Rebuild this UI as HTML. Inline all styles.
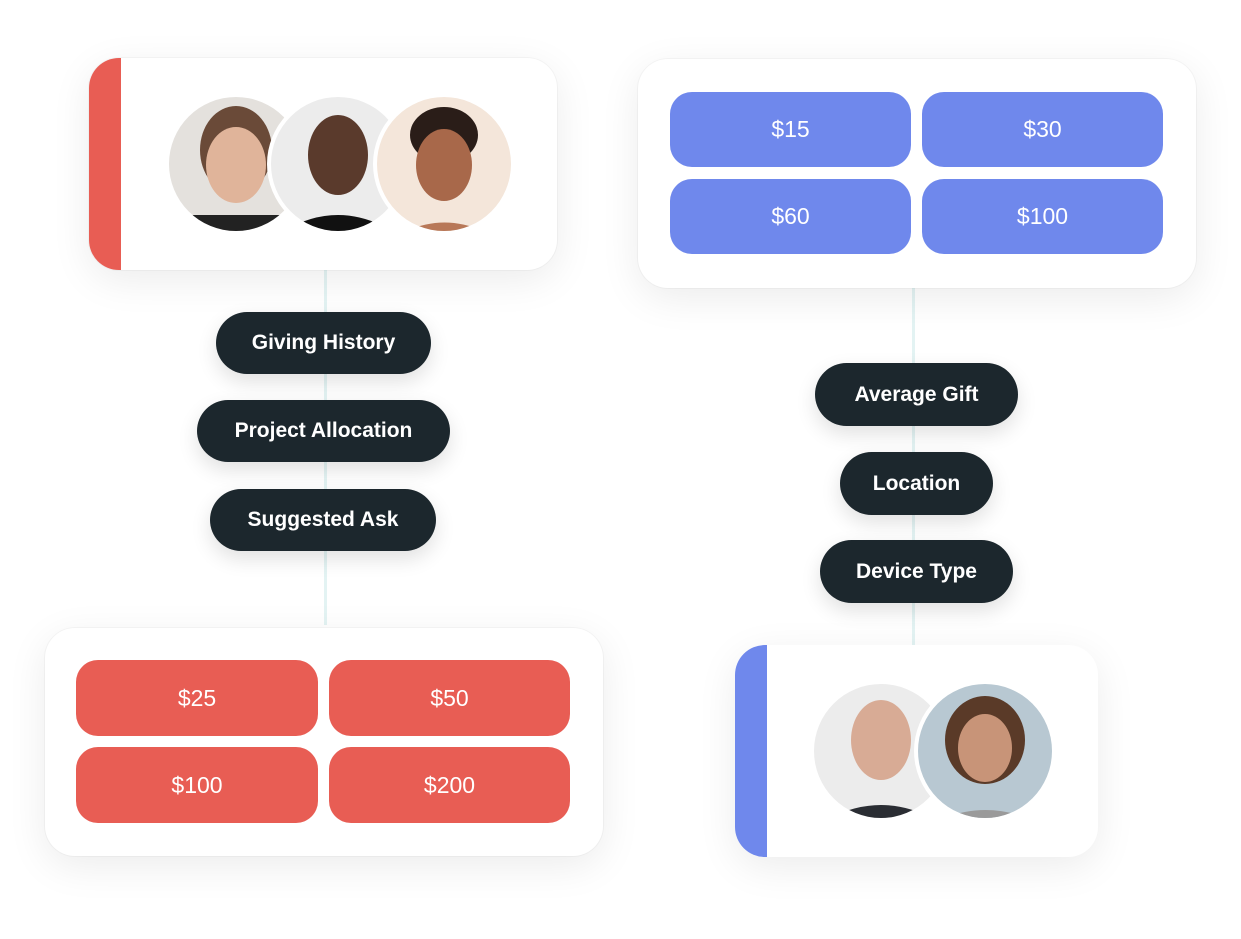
<!DOCTYPE html>
<html><head><meta charset="utf-8"><style>
*{margin:0;padding:0;box-sizing:border-box}
body{width:1241px;height:939px;background:#fff;position:relative;overflow:hidden;font-family:"Liberation Sans",sans-serif}
.card{position:absolute;background:#fff;border-radius:30px;box-shadow:0 10px 40px rgba(0,0,0,0.08),0 0 0 1px rgba(0,0,0,0.03);overflow:hidden}
.bar{position:absolute;left:0;top:0;bottom:0;width:32px}
.line{position:absolute;width:3px;background:#e3f3f3}
.pill{position:absolute;background:#1c272d;color:#fff;font-weight:bold;font-size:21px;border-radius:32px;display:flex;align-items:center;justify-content:center;box-shadow:0 8px 20px rgba(0,0,0,0.12)}
.btn{position:absolute;border-radius:22px;color:#fff;font-size:23px;display:flex;align-items:center;justify-content:center}
.r{background:#e85d54}.b{background:#6f88ec}
svg{position:absolute}
</style></head><body>
<div class="line" style="left:324px;top:270px;height:355px"></div>
<div class="line" style="left:912px;top:288px;height:357px"></div>

<div class="card" style="left:89px;top:58px;width:468px;height:212px"><div class="bar" style="background:#e85d54"></div></div>
<svg style="left:0;top:0" width="1241" height="939">
<defs>
<clipPath id="c1"><circle cx="236" cy="164" r="67"/></clipPath>
<clipPath id="c2"><circle cx="338" cy="164" r="67"/></clipPath>
<clipPath id="c3"><circle cx="444" cy="164" r="67"/></clipPath>
<clipPath id="c4"><circle cx="881" cy="751" r="67"/></clipPath>
<clipPath id="c5"><circle cx="985" cy="751" r="67"/></clipPath>
</defs>
<g clip-path="url(#c1)"><rect x="160" y="90" width="160" height="150" fill="#e4e1dd"/><ellipse cx="236" cy="150" rx="36" ry="44" fill="#6a4a38"/><ellipse cx="236" cy="165" rx="30" ry="38" fill="#e0b49a"/><rect x="190" y="215" width="100" height="30" fill="#222"/></g>
<circle cx="338" cy="164" r="71" fill="#fff"/>
<g clip-path="url(#c2)"><rect x="260" y="90" width="160" height="150" fill="#ececec"/><ellipse cx="338" cy="155" rx="30" ry="40" fill="#5a3a2c"/><path d="M270 240 Q338 190 406 240Z" fill="#111"/></g>
<circle cx="444" cy="164" r="71" fill="#fff"/>
<g clip-path="url(#c3)"><rect x="370" y="90" width="160" height="150" fill="#f4e6da"/><ellipse cx="444" cy="135" rx="34" ry="28" fill="#2a1d18"/><ellipse cx="444" cy="165" rx="28" ry="36" fill="#a8684a"/><path d="M390 240 Q444 205 500 240Z" fill="#b87858"/></g>

<g clip-path="url(#c4)"><rect x="810" y="680" width="150" height="150" fill="#ececec"/><ellipse cx="881" cy="740" rx="30" ry="40" fill="#d8ab95"/><path d="M810 830 Q881 780 952 830Z" fill="#2a2d33"/></g>
<circle cx="985" cy="751" r="71" fill="#fff"/>
<g clip-path="url(#c5)"><rect x="910" y="680" width="150" height="150" fill="#b8c8d2"/><ellipse cx="985" cy="740" rx="40" ry="44" fill="#5a3a28"/><ellipse cx="985" cy="748" rx="27" ry="34" fill="#c89478"/><path d="M920 830 Q985 790 1052 830Z" fill="#9a9a9a"/></g>
</svg>

<div class="card" style="left:638px;top:59px;width:558px;height:229px"></div>
<div class="btn b" style="left:670px;top:92px;width:241px;height:75px">$15</div>
<div class="btn b" style="left:922px;top:92px;width:241px;height:75px">$30</div>
<div class="btn b" style="left:670px;top:179px;width:241px;height:75px">$60</div>
<div class="btn b" style="left:922px;top:179px;width:241px;height:75px">$100</div>

<div class="card" style="left:45px;top:628px;width:558px;height:228px"></div>
<div class="btn r" style="left:76px;top:660px;width:242px;height:76px">$25</div>
<div class="btn r" style="left:329px;top:660px;width:241px;height:76px">$50</div>
<div class="btn r" style="left:76px;top:747px;width:242px;height:76px">$100</div>
<div class="btn r" style="left:329px;top:747px;width:241px;height:76px">$200</div>

<div class="card" style="left:735px;top:645px;width:363px;height:212px;background:transparent;box-shadow:0 10px 40px rgba(0,0,0,0.08)"><div class="bar" style="background:#6f88ec"></div></div>

<div class="pill" style="left:216px;top:312px;width:215px;height:62px">Giving History</div>
<div class="pill" style="left:197px;top:400px;width:253px;height:62px">Project Allocation</div>
<div class="pill" style="left:210px;top:489px;width:226px;height:62px">Suggested Ask</div>
<div class="pill" style="left:815px;top:363px;width:203px;height:63px">Average Gift</div>
<div class="pill" style="left:840px;top:452px;width:153px;height:63px">Location</div>
<div class="pill" style="left:820px;top:540px;width:193px;height:63px">Device Type</div>
</body></html>
